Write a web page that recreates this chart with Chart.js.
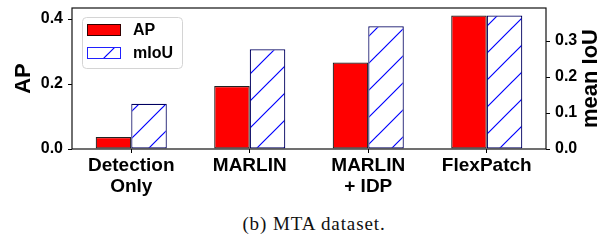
<!DOCTYPE html>
<html>
<head>
<meta charset="utf-8">
<script src="https://cdn.jsdelivr.net/npm/chart.js@4.4.1/dist/chart.umd.min.js"></script>
<style>
  html, body { margin: 0; padding: 0; background: #fff; }
  #wrap { position: relative; width: 606px; height: 240px; }
  #chart-box { position: absolute; left: 0; top: 0; width: 606px; height: 200px; }
  #caption {
    position: absolute; left: 11px; top: 213px; width: 606px; text-align: center;
    font-family: 'Liberation Serif', 'Times New Roman', serif; font-size: 19px;
    letter-spacing: 0.9px; color: #111;
  }
</style>
</head>
<body>
<div id="wrap">
  <div id="chart-box"><canvas id="canvas" width="606" height="200"></canvas></div>
  <div id="caption">(b) MTA dataset.</div>
</div>
<script>
const categories = [['Detection', 'Only'], 'MARLIN', ['MARLIN', '+ IDP'], 'FlexPatch'];
const apValues = [0.037, 0.194, 0.266, 0.411];
const miouValues = [0.126, 0.277, 0.341, 0.371];
const apTicks = [0, 0.2, 0.4];
const miouTicks = [0, 0.1, 0.2, 0.3];
const apMax = 0.434;
const miouMax = 0.392;

const family = '"Liberation Sans", Arial, Helvetica, sans-serif';

function makeHatch() {
  const size = 27;
  const c = document.createElement('canvas');
  c.width = size;
  c.height = size;
  const g = c.getContext('2d');
  g.fillStyle = '#fff';
  g.fillRect(0, 0, size, size);
  g.strokeStyle = '#0000ff';
  g.lineWidth = 1.2;
  g.beginPath();
  g.moveTo(-2, size + 2);
  g.lineTo(size + 2, -2);
  g.moveTo(-2, 2);
  g.lineTo(2, -2);
  g.moveTo(size - 2, size + 2);
  g.lineTo(size + 2, size - 2);
  g.stroke();
  return g.createPattern(c, 'repeat');
}

// drop the label overhang Chart.js reserves, so the plot box is where we want it
function noOverhang(s) {
  s.paddingTop = 0;
  s.paddingBottom = 0;
  s.paddingLeft = 0;
  s.paddingRight = 0;
}

// legend with a rounded box, placed top-left inside the plot
const boxLegend = {
  id: 'boxLegend',
  afterDatasetsDraw(chart) {
    const ctx = chart.ctx;
    const area = chart.chartArea;
    const x = area.left + 10, y = area.top + 9, w = 100, h = 51;
    ctx.save();
    ctx.beginPath();
    ctx.roundRect(x + 0.5, y + 0.5, w, h, 4);
    ctx.fillStyle = 'rgba(255,255,255,0.85)';
    ctx.fill();
    ctx.strokeStyle = '#d4d4d4';
    ctx.lineWidth = 1;
    ctx.stroke();
    chart.data.datasets.forEach((ds, i) => {
      const sy = y + 7 + i * 23;
      ctx.fillStyle = ds.backgroundColor;
      ctx.fillRect(x + 5, sy, 34, 12);
      ctx.strokeStyle = ds.legendEdge;
      ctx.strokeRect(x + 5.5, sy + 0.5, 33, 11);
      ctx.fillStyle = '#000';
      ctx.font = 'bold 16px ' + family;
      ctx.textBaseline = 'middle';
      ctx.textAlign = 'left';
      ctx.fillText(ds.label, x + 51, sy + 7);
    });
    ctx.restore();
  }
};

// full frame round the plot and the right axis title read bottom to top
const frame = {
  id: 'frame',
  afterDraw(chart) {
    const ctx = chart.ctx;
    const a = chart.chartArea;
    ctx.save();
    ctx.strokeStyle = '#111';
    ctx.lineWidth = 1.2;
    ctx.strokeRect(a.left, a.top, a.right - a.left, a.bottom - a.top);
    ctx.translate(591, (a.top + a.bottom) / 2);
    ctx.rotate(-Math.PI / 2);
    ctx.fillStyle = '#000';
    ctx.font = 'bold 22px ' + family;
    ctx.textAlign = 'center';
    ctx.textBaseline = 'middle';
    ctx.fillText('mean IoU', 0, 0);
    ctx.restore();
  }
};

document.addEventListener('DOMContentLoaded', () => {
  const hatch = makeHatch();
  const canvas = document.getElementById('canvas');

  const config = {
    type: 'bar',
    data: {
      labels: categories,
      datasets: [
        {
          label: 'AP',
          data: apValues,
          yAxisID: 'yAP',
          backgroundColor: '#ff0000',
          borderColor: '#222',
          legendEdge: '#300',
          borderWidth: 1.2,
          borderSkipped: false,
          categoryPercentage: 0.6,
          barPercentage: 1.0,
        },
        {
          label: 'mIoU',
          data: miouValues,
          yAxisID: 'yIoU',
          backgroundColor: hatch,
          borderColor: '#000060',
          legendEdge: '#2020ff',
          borderWidth: 1.2,
          borderSkipped: false,
          categoryPercentage: 0.6,
          barPercentage: 1.0,
        },
      ],
    },
    options: {
      responsive: false,
      animation: false,
      layout: { padding: { top: 8, left: 0, right: 0, bottom: 0 } },
      plugins: {
        legend: { display: false },
        tooltip: { enabled: false },
      },
      scales: {
        x: {
          type: 'category',
          offset: true,
          afterFit: s => { noOverhang(s); s.height = 51; },
          grid: { offset: false, drawOnChartArea: false, drawTicks: true, tickLength: 4, tickColor: '#000' },
          border: { display: false },
          ticks: {
            color: '#000',
            font: { family, size: 19, weight: 'bold', lineHeight: 1.1 },
            padding: 2,
            maxRotation: 0,
            autoSkip: false,
          },
        },
        yAP: {
          position: 'left',
          min: 0,
          max: apMax,
          afterBuildTicks: s => { s.ticks = apTicks.map(v => ({ value: v })); },
          afterFit: s => { noOverhang(s); s.width = 72; },
          grid: { drawOnChartArea: false, drawTicks: true, tickLength: 4, tickColor: '#000' },
          border: { display: false },
          ticks: {
            color: '#000',
            padding: 5,
            font: { family, size: 16, weight: 'bold' },
            callback: v => v.toFixed(1),
          },
          title: {
            display: true,
            text: 'AP',
            color: '#000',
            font: { family, size: 22, weight: 'bold' },
            padding: { top: 11, bottom: 0 },
          },
        },
        yIoU: {
          position: 'right',
          min: 0,
          max: miouMax,
          afterBuildTicks: s => { s.ticks = miouTicks.map(v => ({ value: v })); },
          afterFit: s => { noOverhang(s); s.width = 60; },
          grid: { drawOnChartArea: false, drawTicks: true, tickLength: 4, tickColor: '#000' },
          border: { display: false },
          ticks: {
            color: '#000',
            padding: 5,
            font: { family, size: 16, weight: 'bold' },
            callback: v => v.toFixed(1),
          },
        },
      },
    },
    plugins: [boxLegend, frame],
  };

  new Chart(canvas.getContext('2d'), config);
});
</script>
</body>
</html>
